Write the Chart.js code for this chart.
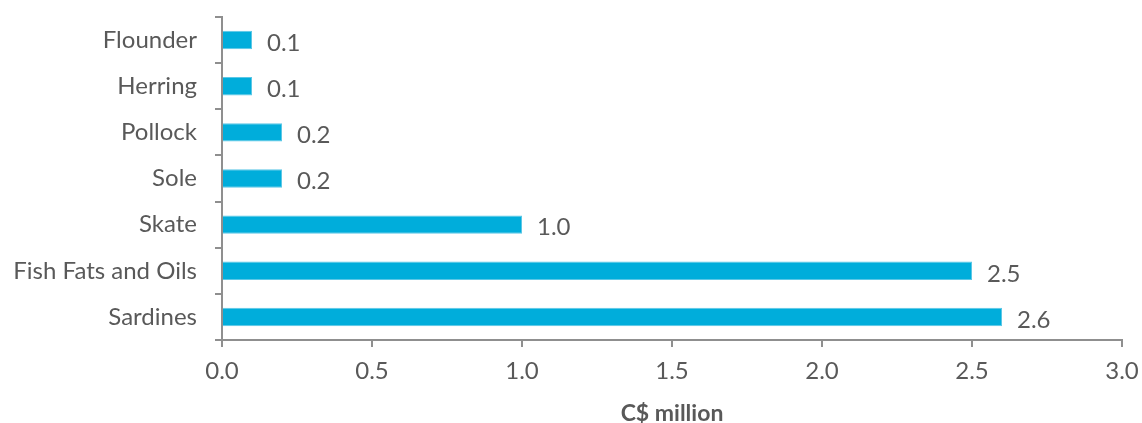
<!DOCTYPE html>
<html>
<head>
<meta charset="utf-8">
<script src="https://cdn.jsdelivr.net/npm/chart.js@4"></script>
<style>
  html, body { margin: 0; padding: 0; background: #fff; }
  #wrap { width: 1142px; height: 423px; }
</style>
</head>
<body>
<div id="wrap"><canvas id="fishChart" width="1142" height="423"></canvas></div>
<script>
const species = ['Flounder', 'Herring', 'Pollock', 'Sole', 'Skate', 'Fish Fats and Oils', 'Sardines'];
const values = [0.1, 0.1, 0.2, 0.2, 1.0, 2.5, 2.6];
const xTicks = [0, 0.5, 1.0, 1.5, 2.0, 2.5, 3.0];
const axisTitle = 'C$ million';

const textColor = '#595959';
const axisColor = '#8f8f8f';
const fontFamily = 'Lato, "Open Sans", sans-serif';

// value labels to the right of each bar
const barLabels = {
  id: 'barLabels',
  afterDatasetsDraw(chart) {
    const ctx = chart.ctx;
    const meta = chart.getDatasetMeta(0);
    ctx.save();
    ctx.font = '24px ' + fontFamily;
    ctx.fillStyle = textColor;
    ctx.textAlign = 'left';
    ctx.textBaseline = 'middle';
    meta.data.forEach((bar, i) => {
      ctx.fillText(values[i].toFixed(1), bar.x + 15, bar.y + 3);
    });
    ctx.restore();
  }
};

new Chart(document.getElementById('fishChart'), {
  type: 'bar',
  data: {
    labels: species,
    datasets: [{
      data: values,
      backgroundColor: '#00addb',
      borderColor: '#5cc7e6',
      borderWidth: 1,
      barPercentage: 0.4,
      categoryPercentage: 1.0
    }]
  },
  options: {
    indexAxis: 'y',
    responsive: false,
    animation: false,
    layout: { padding: { top: 17, right: 20, left: 0, bottom: 0 } },
    plugins: {
      legend: { display: false },
      tooltip: { enabled: false }
    },
    scales: {
      x: {
        min: 0,
        max: 3,
        afterBuildTicks(scale) {
          scale.ticks = xTicks.map(v => ({ value: v }));
        },
        afterFit(scale) {
          scale.height = 83;
          scale.paddingLeft = 0;
          scale.paddingRight = 0;
        },
        border: { display: true, color: axisColor, width: 2 },
        grid: { drawOnChartArea: false, drawTicks: true, tickLength: 7, color: axisColor, lineWidth: 2 },
        ticks: {
          color: textColor,
          padding: 10,
          font: { family: fontFamily, size: 24 },
          callback: v => v.toFixed(1)
        },
        title: {
          display: true,
          text: axisTitle,
          color: textColor,
          padding: { top: 4, bottom: -4 },
          font: { family: fontFamily, size: 23, weight: 'bold' }
        }
      },
      y: {
        afterFit(scale) {
          scale.width = 222;
          scale.paddingTop = 0;
          scale.paddingBottom = 0;
        },
        border: { display: true, color: axisColor, width: 2 },
        grid: { offset: true, drawOnChartArea: false, drawTicks: true, tickLength: 7, color: axisColor, lineWidth: 2 },
        ticks: {
          color: textColor,
          padding: 18,
          font: { family: fontFamily, size: 24 }
        }
      }
    }
  },
  plugins: [barLabels]
});
</script>
</body>
</html>
